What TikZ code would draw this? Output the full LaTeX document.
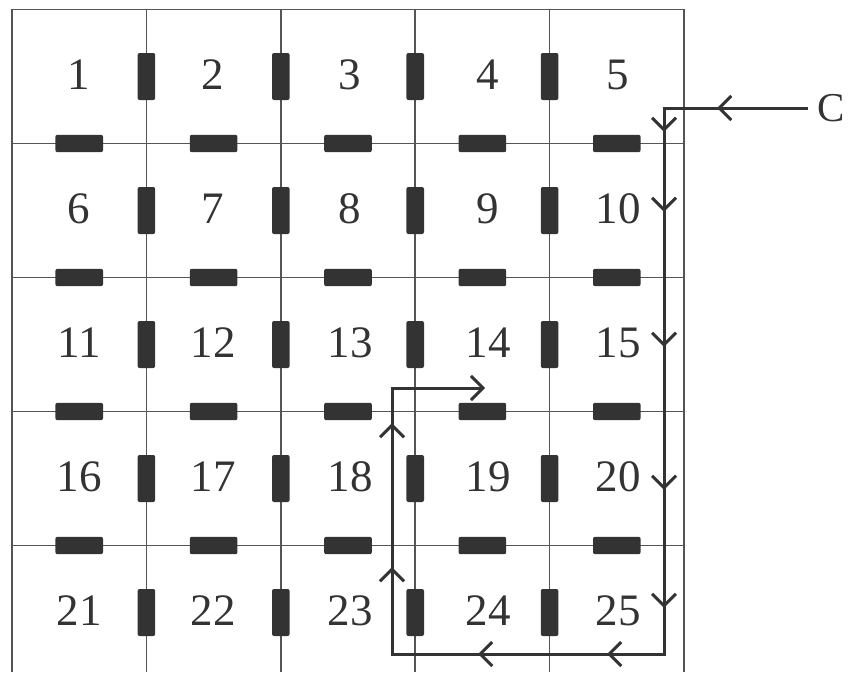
\documentclass[tikz,border=0pt]{standalone}
\usepackage{fontspec}
\setmainfont{Liberation Serif}
\usepackage{tikz}
\usetikzlibrary{arrows.meta,decorations.markings}
\definecolor{rdark}{RGB}{51,51,51}
\definecolor{gline}{RGB}{85,85,85}
\tikzset{
  barb/.tip={Straight Barb[length=12pt,width=24pt]},
  gridline/.style={line width=1.7pt,draw=gline},
  resv/.style={fill=rdark,rounded corners=2pt,inner sep=0pt,minimum width=17.6pt,minimum height=47pt},
  resh/.style={fill=rdark,rounded corners=2pt,inner sep=0pt,minimum width=47.6pt,minimum height=17.4pt},
  cellnum/.style={text=rdark,font=\fontsize{45}{50}\selectfont,inner sep=0pt},
  wire/.style={line width=3pt,draw=rdark,line join=miter},
  barbat/.style={postaction={decorate,decoration={markings,mark=at position #1 with {\arrow{barb}}}}}
}

\begin{document}
\begin{tikzpicture}[x=1pt,y=-1pt]
  \useasboundingbox (0,0) rectangle (848,672);
  % Grid
  \draw[gridline] (12,672) -- (12,9.5) -- (684,9.5) -- (684,672);
  \foreach \i in {1,...,4}{
    \draw[gridline] (12+134.4*\i,9.5) -- (12+134.4*\i,672);
    \draw[gridline] (12,9.5+134*\i) -- (684,9.5+134*\i);
  }
  % Resistors
  \foreach \i in {1,...,4}
    \foreach \j in {1,...,5}
      \node[resv] (rv\i\j) at (12+134.4*\i,9.5+134*\j-67) {};
  \foreach \i in {1,...,5}
    \foreach \j in {1,...,4}
      \node[resh] (rh\i\j) at (12+134.4*\i-67.2,9.5+134*\j) {};
  % Cell numbers
  \foreach \n in {1,...,25}{
    \pgfmathtruncatemacro\col{mod(\n-1,5)}
    \pgfmathtruncatemacro\row{(\n-1)/5}
    \pgfmathsetmacro\xx{{79,213,350,488,618}[\col]}
    \node[cellnum] (n\n) at (\xx,74.5+134*\row) {\n};
  }
  % Current path
  \node[text=rdark,font=\fontsize{41}{46}\selectfont,inner ysep=0pt,inner xsep=9pt] (C) at (831,108) {C};
  \coordinate (k1) at (664,108);
  \coordinate (k2) at (664,654);
  \coordinate (k3) at (392,654);
  \coordinate (k4) at (392,388);
  \coordinate (kend) at (485,388);
  \draw[wire,-barb,barbat=91pt,barbat=168pt,barbat=248pt,barbat=383pt,barbat=526pt,barbat=644pt,
        barbat=747pt,barbat=876pt,barbat=1049pt,barbat=1193pt]
    (C.west) -- (k1) -- (k2) -- (k3) -- (k4) -- (kend);
\end{tikzpicture}
\end{document}
